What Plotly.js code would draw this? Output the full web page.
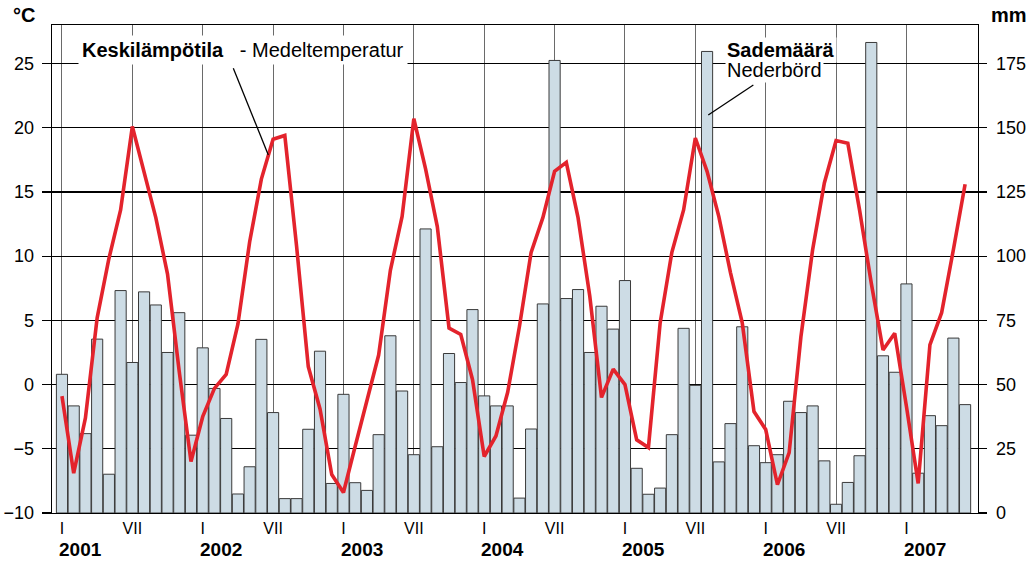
<!DOCTYPE html>
<html>
<head>
<meta charset="utf-8">
<script src="https://cdn.plot.ly/plotly-3.0.1.min.js"></script>
<style>
  html, body { margin: 0; padding: 0; background: #ffffff; }
  #chart { width: 1032px; height: 562px; }
</style>
</head>
<body>
<div id="chart"></div>
<script>
// Monthly mean temperature (°C), Jan 2001 – Jun 2007
const temperature = [
  -0.9, -6.9, -2.6, 5.2, 9.8, 13.6, 20.1, 16.6, 13.0, 8.6, 1.0, -6.0,
  -2.5, -0.3, 0.8, 4.7, 11.1, 16.0, 19.1, 19.4, 10.8, 1.4, -1.9, -7.0,
  -8.4, -4.8, -1.2, 2.3, 8.9, 13.1, 20.7, 16.8, 12.3, 4.4, 3.9, 0.4,
  -5.6, -4.0, -0.6, 4.5, 10.3, 13.0, 16.6, 17.3, 13.0, 6.9, -1.0, 1.2,
  0.0, -4.3, -4.9, 4.8, 10.3, 13.6, 19.2, 16.6, 13.1, 8.7, 4.8, -2.1,
  -3.5, -7.8, -5.3, 3.7, 10.5, 15.7, 19.0, 18.8, 13.6, 7.9, 2.7, 4.0,
  -1.7, -7.7, 3.1, 5.6, 10.5, 15.6
];
// Monthly precipitation (mm), Jan 2001 – Jun 2007
const precipitation = [
  54, 41.7, 30.9, 67.7, 15.1, 86.6, 58.6, 86.1, 81, 62.5, 78, 30.3,
  64.3, 48.5, 36.8, 7.4, 18, 67.6, 39.1, 5.6, 5.6, 32.6, 63, 11.5,
  46.2, 11.8, 8.8, 30.5, 69, 47.5, 22.7, 110.6, 25.8, 62.1, 50.8, 79.2,
  45.6, 41.7, 41.7, 5.8, 32.7, 81.4, 176.2, 83.5, 87, 62.5, 80.5, 71.6,
  90.5, 17.4, 7.3, 9.7, 30.5, 71.9, 49.7, 179.7, 19.9, 34.8, 72.5, 26.2,
  19.6, 22.7, 43.5, 39.1, 41.7, 20.3, 3.4, 11.9, 22.3, 183.2, 61.2, 54.8,
  89.2, 15.5, 37.9, 34, 68.1, 42.2
];
const years = ['2001', '2002', '2003', '2004', '2005', '2006', '2007'];
const monthMarks = ['I', 'VII'];
const tempTicks = [-10, -5, 0, 5, 10, 15, 20, 25];
const mmTicks = [0, 25, 50, 75, 100, 125, 150, 175];

const monthIndex = temperature.map((_, i) => i);

const tickVals = [];
const tickText = [];
years.forEach((y, k) => {
  tickVals.push(12 * k); tickText.push(monthMarks[0]);
  if (12 * k + 6 < temperature.length) { tickVals.push(12 * k + 6); tickText.push(monthMarks[1]); }
});

const FONT = 'Liberation Sans, Arial, Helvetica, sans-serif';

// bars on the main (mm, right-hand) axis, the temperature line on the overlaying axis so it is drawn on top
const bars = {
  type: 'bar',
  x: monthIndex,
  y: precipitation,
  yaxis: 'y',
  marker: { color: '#cddce5', line: { color: '#3a3a3a', width: 1 } },
  showlegend: false
};
const line = {
  type: 'scatter',
  mode: 'lines',
  x: monthIndex,
  y: temperature,
  yaxis: 'y2',
  line: { color: '#e3232c', width: 3.6 },
  showlegend: false
};

const annotations = [
  { xref: 'paper', yref: 'paper', x: 0.0285, y: 0.9488, xanchor: 'left', yanchor: 'middle',
    text: '<b>Keskilämpötila</b>\u00a0\u00a0 - Medeltemperatur', showarrow: false,
    font: { family: FONT, size: 20, color: '#000' }, bgcolor: '#ffffff', borderpad: 3 },
  { xref: 'paper', yref: 'paper', x: 0.727, y: 0.9494, xanchor: 'left', yanchor: 'middle',
    text: '<b>Sademäärä</b>', showarrow: false,
    font: { family: FONT, size: 20, color: '#000' }, bgcolor: '#ffffff', borderpad: 1 },
  { xref: 'paper', yref: 'paper', x: 0.727, y: 0.9078, xanchor: 'left', yanchor: 'middle',
    text: 'Nederbörd', showarrow: false,
    font: { family: FONT, size: 20, color: '#000' }, bgcolor: '#ffffff', borderpad: 1 },
  { xref: 'paper', yref: 'paper', x: -0.0302, y: 1.021, xanchor: 'center', yanchor: 'middle',
    text: '<b>°C</b>', showarrow: false, font: { family: FONT, size: 20, color: '#000' } },
  { xref: 'paper', yref: 'paper', x: 1.034, y: 1.02, xanchor: 'center', yanchor: 'middle',
    text: '<b>mm</b>', showarrow: false, font: { family: FONT, size: 20, color: '#000' } }
];
years.forEach((y, k) => {
  annotations.push({
    xref: 'x', yref: 'paper', x: 12 * k + 1.55, y: -0.0758, xanchor: 'center', yanchor: 'middle',
    text: '<b>' + y + '</b>', showarrow: false, font: { family: FONT, size: 19, color: '#000' }
  });
});

const layout = {
  width: 1032, height: 562,
  margin: { l: 52, r: 54, t: 25, b: 49, pad: 0 },
  paper_bgcolor: '#ffffff', plot_bgcolor: '#ffffff',
  bargap: 0.05,
  font: { family: FONT, size: 18, color: '#000' },
  xaxis: {
    range: [-0.85, 78.1],
    tickmode: 'array', tickvals: tickVals, ticktext: tickText,
    tickfont: { family: FONT, size: 16, color: '#000' },
    ticks: '', showgrid: true, gridcolor: '#6a6a6a', gridwidth: 1,
    showline: true, linecolor: '#000', linewidth: 1.3, mirror: true,
    zeroline: false, fixedrange: true
  },
  yaxis: {
    range: [0, 190], side: 'right',
    tickmode: 'array', tickvals: mmTicks,
    tickfont: { family: FONT, size: 18, color: '#000' },
    ticks: 'outside', ticklen: 8, tickcolor: '#000', tickwidth: 1.3, ticklabelstandoff: 5,
    showgrid: true, gridcolor: '#000', gridwidth: 1.3,
    showline: true, linecolor: '#000', linewidth: 1.3,
    zeroline: false, fixedrange: true
  },
  yaxis2: {
    range: [-10, 28], overlaying: 'y', side: 'left',
    tickmode: 'array', tickvals: tempTicks,
    tickfont: { family: FONT, size: 18, color: '#000' },
    ticks: 'outside', ticklen: 9, tickcolor: '#000', tickwidth: 1.3, ticklabelstandoff: 4,
    showgrid: false, zeroline: false,
    showline: true, linecolor: '#000', linewidth: 1.3, fixedrange: true
  },
  annotations: annotations,
  shapes: [
    { type: 'line', xref: 'paper', yref: 'paper', x0: 0.1958, y0: 0.9113, x1: 0.2336, y1: 0.7336,
      line: { color: '#000', width: 1.3 } },
    { type: 'line', xref: 'paper', yref: 'paper', x0: 0.7574, y0: 0.877, x1: 0.7087, y1: 0.8156,
      line: { color: '#000', width: 1.3 } }
  ]
};

Plotly.newPlot('chart', [bars, line], layout, { displayModeBar: false, staticPlot: true });
</script>
</body>
</html>
